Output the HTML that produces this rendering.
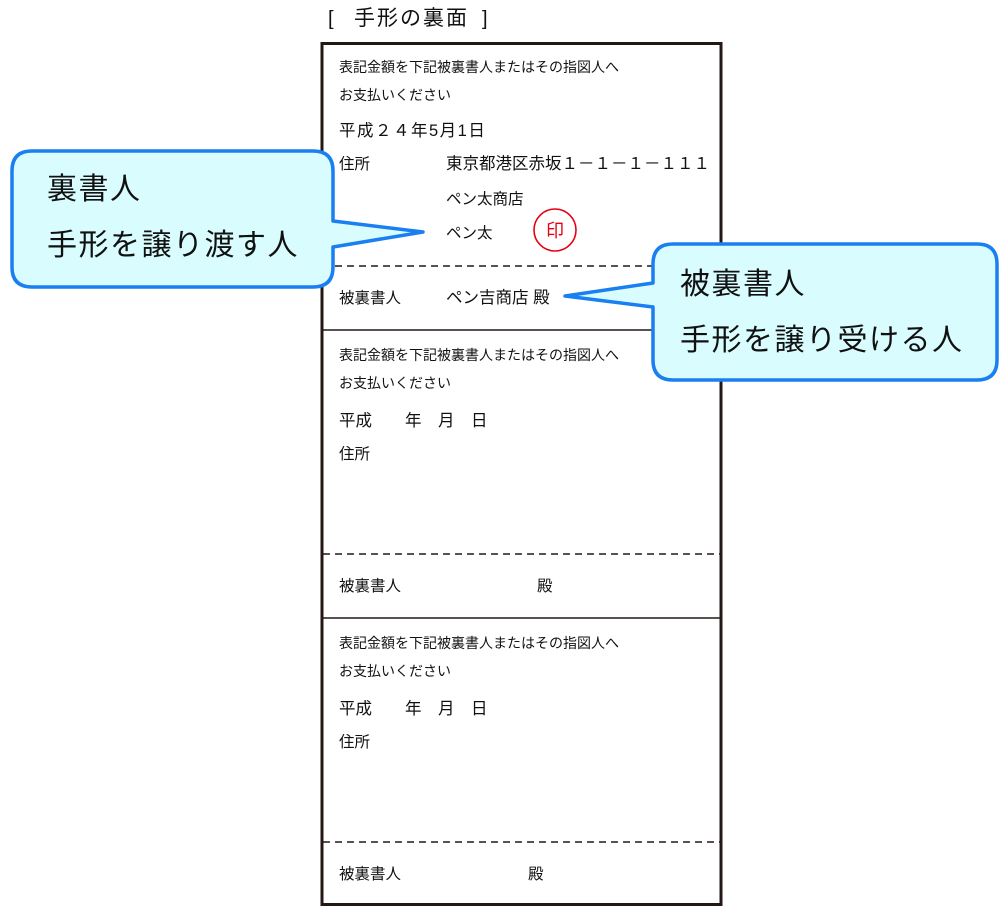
<!DOCTYPE html>
<html><head><meta charset="utf-8"><style>
html,body{margin:0;padding:0;background:#fff;}
svg{display:block;font-family:"Liberation Sans","Noto Sans CJK JP",sans-serif;}
</style></head><body>
<svg width="1006" height="910" viewBox="0 0 1006 910" xmlns="http://www.w3.org/2000/svg">
<text x="328" y="25" font-size="20" fill="#111">[</text>
<text x="354" y="25" font-size="21" fill="#111" letter-spacing="2">手形の裏面</text>
<text x="482" y="25" font-size="20" fill="#111">]</text>
<rect x="322" y="43.5" width="399" height="861" fill="#fff" stroke="#231815" stroke-width="3"/>
<g stroke="#231815" stroke-width="1.6">
<line x1="323" y1="266" x2="720" y2="266" stroke-dasharray="7,5"/>
<line x1="323" y1="330" x2="720" y2="330"/>
<line x1="323" y1="554" x2="720" y2="554" stroke-dasharray="7,5"/>
<line x1="323" y1="618" x2="720" y2="618"/>
<line x1="323" y1="842" x2="720" y2="842" stroke-dasharray="7,5"/>
</g>
<g fill="#111">
<text x="339" y="72" font-size="14">表記金額を下記被裏書人またはその指図人へ</text>
<text x="339" y="100" font-size="14">お支払いください</text>
<text x="339" y="136" font-size="16.5" letter-spacing="1.5">平成２４年5月1日</text>
<text x="339" y="169" font-size="15.5">住所</text>
<text x="446" y="169" font-size="16.5">東京都港区赤坂１－１－１－１１１</text>
<text x="446" y="204" font-size="15.5">ペン太商店</text>
<text x="446" y="238" font-size="15.5">ペン太</text>
<text x="339" y="303" font-size="15.5">被裏書人</text>
<text x="446" y="303" font-size="16.5">ペン吉商店 殿</text>

<text x="339" y="360" font-size="14">表記金額を下記被裏書人またはその指図人へ</text>
<text x="339" y="388" font-size="14">お支払いください</text>
<text x="339" y="426" font-size="16.5">平成　　年　月　日</text>
<text x="339" y="459" font-size="15.5">住所</text>
<text x="339" y="591" font-size="15.5">被裏書人</text>
<text x="537" y="591" font-size="15.5">殿</text>

<text x="339" y="648" font-size="14">表記金額を下記被裏書人またはその指図人へ</text>
<text x="339" y="676" font-size="14">お支払いください</text>
<text x="339" y="714" font-size="16.5">平成　　年　月　日</text>
<text x="339" y="747" font-size="15.5">住所</text>
<text x="339" y="879" font-size="15.5">被裏書人</text>
<text x="528" y="879" font-size="15.5">殿</text>
</g>
<ellipse cx="555" cy="230" rx="21" ry="21" fill="none" stroke="#e60012" stroke-width="1.6"/>
<text x="555" y="237" font-size="18" fill="#e60012" text-anchor="middle">印</text>

<path d="M32,151 H313 Q333,151 333,171 V221 L423,232 L333,247 V267 Q333,287 313,287 H32 Q12,287 12,267 V171 Q12,151 32,151 Z" fill="#d9fdff" stroke="#1a7ff0" stroke-width="3.5" stroke-linejoin="round"/>
<text x="47" y="199" font-size="30" fill="#111" letter-spacing="1.5">裏書人</text>
<text x="47" y="255" font-size="30" fill="#111" letter-spacing="1.5">手形を譲り渡す人</text>

<path d="M673,244 H977 Q997,244 997,264 V360 Q997,380 977,380 H673 Q653,380 653,360 V307 L565,296 L653,283 V264 Q653,244 673,244 Z" fill="#d9fdff" stroke="#1a7ff0" stroke-width="3.5" stroke-linejoin="round"/>
<text x="680" y="294" font-size="30" fill="#111" letter-spacing="1.5">被裏書人</text>
<text x="680" y="350" font-size="30" fill="#111" letter-spacing="1.5">手形を譲り受ける人</text>
</svg>
</body></html>
